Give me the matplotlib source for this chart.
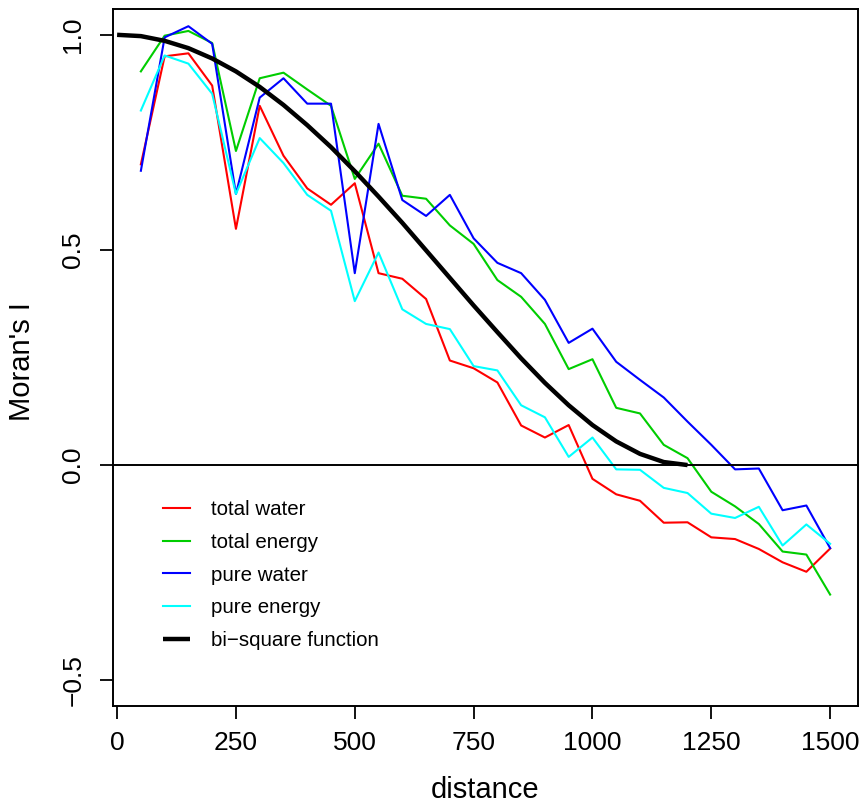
import matplotlib
matplotlib.use("Agg")
import matplotlib.pyplot as plt

plt.rcParams['font.family'] = ['Liberation Sans', 'DejaVu Sans']

distance = [50, 100, 150, 200, 250, 300, 350, 400, 450, 500,
            550, 600, 650, 700, 750, 800, 850, 900, 950, 1000,
            1050, 1100, 1150, 1200, 1250, 1300, 1350, 1400, 1450, 1500]

total_water = [0.699, 0.950, 0.957, 0.882, 0.549, 0.835, 0.719, 0.643, 0.605, 0.655,
               0.446, 0.433, 0.386, 0.243, 0.225, 0.192, 0.092, 0.064, 0.093, -0.032,
               -0.068, -0.083, -0.134, -0.133, -0.168, -0.172, -0.195, -0.226, -0.248, -0.194]

total_energy = [0.915, 0.998, 1.009, 0.981, 0.730, 0.899, 0.912, 0.873, 0.835, 0.665,
                0.747, 0.626, 0.619, 0.557, 0.514, 0.430, 0.391, 0.328, 0.223, 0.246,
                0.133, 0.120, 0.047, 0.016, -0.062, -0.096, -0.137, -0.201, -0.208, -0.301]

pure_water = [0.684, 0.994, 1.020, 0.979, 0.630, 0.854, 0.899, 0.840, 0.840, 0.446,
              0.793, 0.616, 0.579, 0.628, 0.527, 0.470, 0.446, 0.384, 0.284, 0.317,
              0.240, 0.198, 0.157, 0.101, 0.047, -0.010, -0.008, -0.105, -0.094, -0.193]

pure_energy = [0.824, 0.952, 0.933, 0.863, 0.630, 0.760, 0.702, 0.628, 0.591, 0.381,
               0.494, 0.362, 0.328, 0.316, 0.230, 0.220, 0.139, 0.111, 0.019, 0.064,
               -0.010, -0.011, -0.053, -0.065, -0.113, -0.123, -0.097, -0.187, -0.138, -0.183]

bisq_distance = [0, 50, 100, 150, 200, 250, 300, 350, 400, 450, 500, 550, 600,
                 650, 700, 750, 800, 850, 900, 950, 1000, 1050, 1100, 1150, 1200]
bisq_value = [1.000, 0.997, 0.986, 0.969, 0.945, 0.915, 0.879, 0.837, 0.790, 0.739,
              0.683, 0.624, 0.563, 0.499, 0.435, 0.371, 0.309, 0.248, 0.191, 0.139,
              0.093, 0.055, 0.026, 0.007, 0.000]

x_ticks = [0, 250, 500, 750, 1000, 1250, 1500]
y_ticks = [-0.5, 0.0, 0.5, 1.0]
y_tick_labels = ["\u22120.5", "0.0", "0.5", "1.0"]

W, H = 865, 805
fig = plt.figure(figsize=(W / 100, H / 100), dpi=100)
ax = fig.add_axes([113.3 / W, 1 - 706 / H, (857.7 - 113.3) / W, (706 - 9) / H])

lw = 1.5
ax.plot(distance, total_water, color='#FF0000', lw=lw, label='total water')
ax.plot(distance, total_energy, color='#00CD00', lw=lw, label='total energy')
ax.plot(distance, pure_water, color='#0000FF', lw=lw, label='pure water')
ax.plot(distance, pure_energy, color='#00FFFF', lw=lw, label='pure energy')
ax.plot(bisq_distance, bisq_value, color='black', lw=3.2, label='bi\u2212square function',
        solid_capstyle='butt')
ax.axhline(0, color='black', lw=1.4)

ax.set_xlim(-8, 1558)
ax.set_ylim(-0.56, 1.06)

ax.set_xticks(x_ticks)
ax.set_xticklabels([str(t) for t in x_ticks])
ax.set_yticks(y_ticks)
ax.set_yticklabels(y_tick_labels, rotation=90, va='center')

for s in ax.spines.values():
    s.set_linewidth(1.4)
ax.tick_params(axis='both', length=9.2, width=1.3, labelsize=19, color='black')
ax.tick_params(axis='x', pad=9)
ax.tick_params(axis='y', pad=11)

fig.text(485.5 / W, 1 - 790 / H, "distance", ha='center', va='center', fontsize=21)
fig.text(22 / W, 1 - 362 / H, "Moran's I", ha='center', va='center', fontsize=21, rotation=90)

leg = ax.legend(loc='upper left', bbox_to_anchor=((163 - 113.3) / 744.4, (706 - 500) / 697),
                frameon=False, fontsize=14.8, handlelength=1.3, handletextpad=1.05,
                labelspacing=0.67, borderpad=0, borderaxespad=0)

fig.savefig("out.png", dpi=100)
